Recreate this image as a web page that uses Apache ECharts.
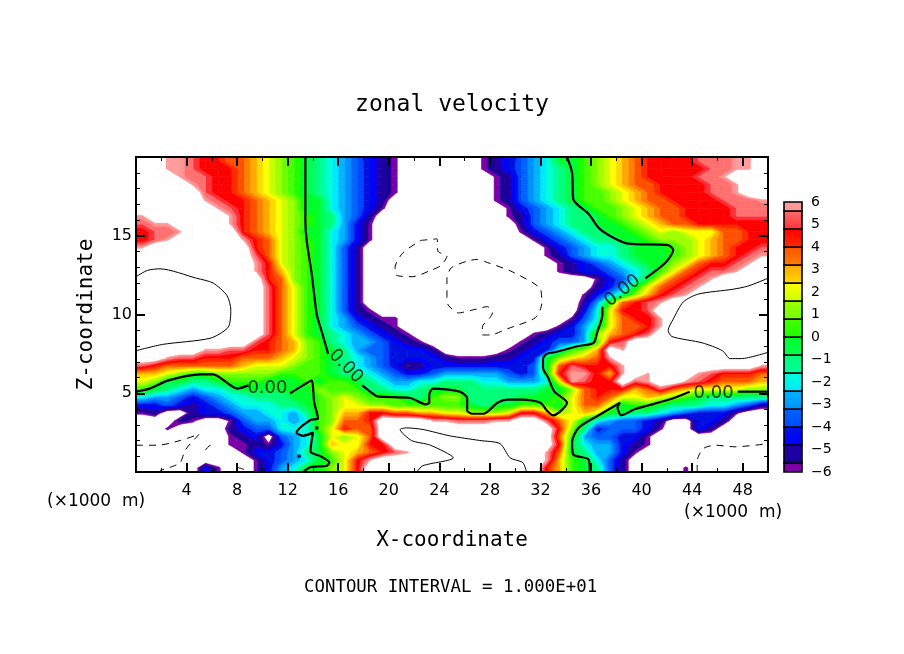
<!DOCTYPE html>
<html lang="en">
<head>
    <meta charset="UTF-8">
    <title>zonal velocity</title>
    <script src="https://cdn.jsdelivr.net/npm/echarts@6/dist/echarts.min.js"></script>
    <style>
        html, body { margin: 0; padding: 0; background: #fff; }
    </style>
</head>
<body>
    <div id="myChart" style="width: 904px; height: 654px;"></div>

    <script>
        // band edges of the colour bar (m/s)
        const bandEdges = [-6, -5.6, -4.8, -4, -3.2, -2.4, -1.6, -0.8, 0, 0.8, 1.6, 2.4, 3.2, 4, 4.8, 5.6, 6];
        const bandLow = ['#7a00a8', '#1a0098', '#0000ff', '#0048ff', '#0090ff', '#00e8ff', '#00ff9c', '#00ff50',
                         '#1cff00', '#70ff00', '#c8ff00', '#ffd800', '#ff8000', '#ff2c00', '#ff3038', '#ff9494'];
        const bandHigh = ['#7a00a8', '#2000a8', '#0010e0', '#0064ff', '#00b4ff', '#00ffd8', '#00ff78', '#00ff28',
                          '#48ff00', '#a0ff00', '#ffff00', '#ffa800', '#ff5000', '#ff0000', '#ff7070', '#ff9c9c'];

        // one letter per km in x, one row per 0.5 km in z, top row first; a = lowest band, p = highest, . = off scale
        const bandLetters = 'abcdefghijklmnop';
        const velocityRows = [
            '..pponnmml kjihgfedcb a......abc defhhijklm nnnnooopp.',
            '..pponnnml kjihgfedcb a......abc defghijklm nnnnnoopp.',
            '...poonnml kjihgfedcb a.......ab defghijklm nnnnoop...',
            '....ponnml kjihgfedcb a.......ab defghijklm mnnnnoop..',
            '.....onnml kjihgfedcb a.......ab defghiijkl mnnnnoop..',
            '.....ponnm lkjhhfedcb ........ab defghiijkl mmnnnnooop',
            '......ponm lkjhhfedca .........a cdefghiijk lmmnnnnooo',
            'p......pnm lkjihgedb. .........a bdefgghijk lmmnnnnooo',
            'opp....pnm lkjihgeca. .......... bdefgghhij klmmnnnnnn',
            'noop....nm lkjhhfeca. .......... acdefgghhi jkjkkkmmnn',
            'nop.....pn mkjihfeca. .......... .acdefgghh ijjjklmmnn',
            'p........n mkjihfdb.. .......... ..acdeffgh hhijklmnno',
            '.........o mkjihfdb.. .......... ..abdeffgh hhijklmnop',
            '.........p nkjihfdb.. .......... ...abcdefg hhjkmnnop.',
            '.........p nljihfdb.. .......... ...abccdef gikmnoop..',
            '.......... nmjihfdb.. .......... ......acdf hkmnop....',
            '.......... omkihfdb.. .......... ......bceh kmnop.....',
            '.......... omkihfdb.. .......... .....acegj lnop......',
            '.......... omkihfdb.. .......... .....beimn op........',
            '.......... omkihfdba. .......... .....cfknn o.........',
            '.......... omkihfecba a......... ....adfkmn np........',
            '.......... omkihfedcb a......... ...acegkmm np........',
            '.......... omkihgfedc ba........ .abccejlmn o.........',
            '.........o nmljigfeed cba....... abcddeino. ..........',
            '.....ppoon nmljihgedd cccb.....a bccfijl.p. ..........',
            '..poonnnmm mlkjihgfed ccccbaaabb cchjklmp.. ..........',
            'onmmmmmmlk kkjiihgfed cabccccccc cdhmonnnp. .........p',
            'llkjiijjjj jiiiihggfe dccdeeeeed cdhnppnlp. p...ponnnm',
            'kjhhgghiii hhhihiihgf eeffgggffe eefkponn.o p..ponmmml',
            'ihgfeffghh hhhhjiiigg ffghhhgggg gghhjmnnnl momlkkkkjj',
            'feedcdeffg gghhijkjii ihgijjgggg hhhikmnmkk lkjihggggg',
            'ccdcbcdeff fgghijkkjj iiiiiihghh iiihkmmkhi ihgggffedb',
            'ab..bccdee ffegijllnn mmllkkjjjk nnljklkhhg gfedccca..',
            '...ba..ade efefijmmn. ...ppooopp ..omkhfedd cb..ccb...',
            '..a....bcd dfffiknmm. .......... ...njgcddd ca..cb....',
            '.......abc .defhkjkm. .......... ...mieddcc a.........',
            '.......aab acefhlkknn .......... ...nhfeecb a.........',
            '........ac cdeghjklmn op........ ..pmhgeeca ..........',
            '.........a cdefhiknp. .......... ..plihfdb. ..........',
            '.....ca..a cefhhjkn.. .......... ..nlihgdb. ...a......'
        ];

        // contour lines, [x in km, z in km]
        const zeroUpper = [[13.4,20],[13.4,16],[13.5,14.7],[13.9,12.6],[14.3,10],[14.7,8.9],[15.2,7.5]];
        const zeroMiddle = [[17.9,5.5],[18.7,5],[19.1,4.8],[21.7,4.7],[22.9,4.3],[23.2,4.4],[23.2,4.9],[23.5,5.3],[25.6,5.1],[26.2,4.7],[26.2,3.9],[26.6,3.7],[27.5,3.7],[28.6,4.4],[29.4,4.6],[30.6,4.6],[32,4.4],[32.5,3.9],[33,3.6],[33.5,3.8],[34.1,4.4],[33.1,5.1],[32.6,6],[32.2,6.6],[32.2,7.2],[32.5,7.5],[33.1,7.6],[35,8],[36.2,8.2],[36.5,8.9],[36.9,10],[36.9,10.5]];
        const zeroRightUp = [[40.3,12.3],[41.9,13.3],[42.5,14.1],[42.1,14.4],[38.9,14.5],[37.7,14.9],[36.6,15.5],[35.8,16.4],[34.6,17.3],[34.5,19],[34.1,20]];
        const zeroLeft = [[0,5.1],[1.1,5.3],[2.5,5.8],[5.1,6.2],[6.1,6.2],[8,5.3],[8.9,5.5]];
        const zeroLeftLow = [[12.2,5],[13.2,5.5],[13.9,5.8],[14,5.4],[14.1,4.4],[14.4,3.4],[13.8,3.3],[12.7,2.5],[13.2,2.3],[14,2.5],[13.8,1.3],[14.6,1],[15.3,0.6],[15.1,0.4],[13.8,0.3],[13.2,0]];
        const zeroRight = [[35.9,0],[35.8,0.8],[34.6,1.1],[34.5,1.9],[35,2.8],[36.6,3.6],[38.3,4.4],[38.1,4.1],[38.4,3.6],[39.5,4],[42.2,4.6],[43.8,5.1]];
        const zeroEdge = [[47.6,5.1],[50,5.1]];
        const zeroDots = [[14.3,2.8],[12.9,1]];
        const zeroLines = [zeroUpper, zeroMiddle, zeroRightUp, zeroLeft, zeroLeftLow, zeroRight, zeroEdge];

        const posLeft = [[0,12.4],[0.9,12.8],[1.9,12.9],[4.8,12.3],[6.1,12],[7.2,11.2],[7.5,10.3],[7.3,9.2],[5.9,8.5],[2.1,8.1],[0,7.7]];
        const posRight = [[50,12.3],[48.4,11.8],[47.2,11.6],[44.5,11.3],[43.3,10.8],[42.5,9.7],[42.1,9],[42.4,8.6],[44.8,8.2],[46.4,7.7],[47,7.2],[47.9,7.2],[50,7.6]];
        const posLow = [[30.9,0],[30.6,0.6],[29.6,0.9],[28.8,1.8],[27.2,2],[24.8,2.3],[22.7,2.7],[21.4,2.8],[20.9,2.7],[21.8,2],[23.3,1.7],[25.1,0.9],[22.7,0.4],[22.2,0]];
        const posLines = [posLeft, posRight, posLow];

        const negLoopA = [[22.5,14.7],[23.8,14.8],[23.9,14],[24.6,13.7],[24.1,13.1],[23.3,12.8],[21.9,12.4],[20.6,12.5],[20.5,13],[21.1,13.9],[22.5,14.7]];
        const negLoopB = [[24.6,11.1],[24.6,12.3],[25,13],[27,13.5],[27.8,13.3],[29.8,12.7],[32,11.6],[32.1,10.7],[31.6,9.8],[29.4,9.1],[28,8.7],[27.4,8.7],[27.4,9.2],[28,9.8],[28.2,10.1],[27.8,10.5],[26.7,10.3],[25.5,10.1],[24.7,10.6],[24.6,11.1]];
        const negLowLeft = [[0,1.7],[1.7,1.7],[3.5,2],[5,2.4],[3.9,1.4],[3.5,0.6],[2.7,0.3],[1.9,0.1]];
        const negSmall = [[5.5,1.4],[5.9,1.7],[6.2,1.7]];
        const negBottom = [[8,0.3],[8.8,0.1]];
        const negLowRight = [[44.4,0],[44.4,0.6],[44.5,1],[44.9,1.5],[45.8,1.7],[47.4,1.6],[50,1.8]];
        const negLines = [negLoopA, negLoopB, negLowLeft, negSmall, negBottom, negLowRight];

        // where the 0.00 labels sit, [x, z, rotation]
        const zeroLabels = [[10.4,5.3,0],[16.6,6.7,-45],[38.5,11.5,38],[45.7,5,0]];

        // text
        const titleText = 'zonal velocity';
        const xName = 'X-coordinate';
        const zName = 'Z-coordinate';
        const unitText = '(\u00d71000  m)';
        const intervalText = 'CONTOUR INTERVAL = 1.000E+01';

        const plotRect = { left: 136, top: 157, width: 632, height: 315 };
        const sansFont = '"DejaVu Sans", sans-serif';
        const monoFont = '"DejaVu Sans Mono", monospace';
        const offScale = 7;

        // read the rows into a bottom-up table, a band letter stands for the middle of its band
        const field = velocityRows.slice().reverse().map(function (row) {
            return row.replace(/ /g, '').split('').map(function (ch) {
                const b = bandLetters.indexOf(ch);
                return b < 0 ? null : (bandEdges[b] + bandEdges[b + 1]) / 2;
            });
        });
        // off-scale (white) areas are over +6 or under -6, whichever their colored neighbours lead to
        for (let changed = true; changed;) {
            changed = false;
            field.forEach(function (row, r) {
                row.forEach(function (v, c) {
                    if (v !== null) return;
                    const near = [(field[r - 1] || [])[c], (field[r + 1] || [])[c], row[c - 1], row[c + 1]]
                        .filter(function (n) { return n !== null && n !== undefined; });
                    if (near.length) {
                        row[c] = near[0] > 0 ? offScale : -offScale;
                        changed = true;
                    }
                });
            });
        }

        // node positions in km: cell centres plus the plot edges
        const nodeX = [0].concat(field[0].map(function (_, c) { return c + 0.5; }), [50]);
        const nodeZ = [0].concat(field.map(function (_, r) { return (r + 0.5) / 2; }), [20]);
        function nodeValue(i, j) {
            const r = Math.min(Math.max(j - 1, 0), field.length - 1);
            const c = Math.min(Math.max(i - 1, 0), field[0].length - 1);
            return field[r][c];
        }

        // filled contour levels, each band has two shades, white again above the top
        const levels = [];
        bandLow.forEach(function (c, i) {
            levels.push({ from: bandEdges[i], color: c });
            levels.push({ from: (bandEdges[i] + bandEdges[i + 1]) / 2, color: bandHigh[i] });
        });
        levels.push({ from: 6, color: '#fff' });

        // the part of every grid square that is at or above one level, in km
        function levelPolygons(t, nextT) {
            const polys = [];
            for (let j = 0; j < nodeZ.length - 1; j++) {
                for (let i = 0; i < nodeX.length - 1; i++) {
                    const corners = [
                        [nodeX[i], nodeZ[j], nodeValue(i, j)],
                        [nodeX[i + 1], nodeZ[j], nodeValue(i + 1, j)],
                        [nodeX[i + 1], nodeZ[j + 1], nodeValue(i + 1, j + 1)],
                        [nodeX[i], nodeZ[j + 1], nodeValue(i, j + 1)]
                    ];
                    const low = Math.min(corners[0][2], corners[1][2], corners[2][2], corners[3][2]);
                    if (nextT !== undefined && low >= nextT) continue;
                    const pts = [];
                    corners.forEach(function (a, k) {
                        const b = corners[(k + 1) % 4];
                        if (a[2] >= t) pts.push([a[0], a[1]]);
                        if ((a[2] >= t) !== (b[2] >= t)) {
                            const f = (t - a[2]) / (b[2] - a[2]);
                            pts.push([a[0] + f * (b[0] - a[0]), a[1] + f * (b[1] - a[1])]);
                        }
                    });
                    if (pts.length > 2) polys.push(pts);
                }
            }
            return polys;
        }
        levels.forEach(function (l, i) {
            l.polys = levelPolygons(l.from, i + 1 < levels.length ? levels[i + 1].from : undefined);
        });

        function lineSeries(points, width, type) {
            return {
                type: 'line', xAxisIndex: 0, yAxisIndex: 0, data: points, smooth: 0.25,
                showSymbol: false, silent: true, animation: false, z: 5,
                lineStyle: { color: '#000', width: width, type: type }
            };
        }

        const barBoxes = bandLow.map(function (c, i) { return [0, bandEdges[i], 1, bandEdges[i + 1], i]; });

        const series = [
            {
                // filled contours
                type: 'custom', xAxisIndex: 0, yAxisIndex: 0, silent: true, animation: false, z: 1,
                data: levels.map(function (l, i) { return [0, 0, i]; }),
                renderItem: function (params, api) {
                    const l = levels[api.value(2)];
                    return {
                        type: 'group',
                        children: l.polys.map(function (pts) {
                            return {
                                type: 'polygon',
                                shape: { points: pts.map(function (p) { return api.coord(p); }) },
                                style: { fill: l.color, stroke: l.color, lineWidth: 0.6 }
                            };
                        })
                    };
                }
            }
        ];
        zeroLines.forEach(function (l) { series.push(lineSeries(l, 2.2, 'solid')); });
        posLines.forEach(function (l) { series.push(lineSeries(l, 1, 'solid')); });
        negLines.forEach(function (l) { series.push(lineSeries(l, 1, [7, 6])); });
        series.push({
            type: 'scatter', xAxisIndex: 0, yAxisIndex: 0, data: zeroDots, symbolSize: 4,
            silent: true, animation: false, z: 5, itemStyle: { color: '#000' }
        });
        series.push({
            type: 'scatter', xAxisIndex: 0, yAxisIndex: 0, symbolSize: 0, silent: true, animation: false, z: 6,
            data: zeroLabels.map(function (l) {
                return {
                    value: [l[0], l[1]],
                    label: { show: true, position: 'inside', rotate: l[2], formatter: '0.00',
                             color: '#000', fontFamily: sansFont, fontSize: 18 }
                };
            })
        });
        // colour bar
        series.push({
            type: 'custom', xAxisIndex: 2, yAxisIndex: 2, data: barBoxes, silent: true, animation: false,
            renderItem: function (params, api) {
                const a = api.coord([api.value(0), api.value(1)]);
                const b = api.coord([api.value(2), api.value(3)]);
                const i = api.value(4);
                return {
                    type: 'rect',
                    shape: { x: a[0], y: b[1], width: b[0] - a[0], height: a[1] - b[1] },
                    style: {
                        fill: new echarts.graphic.LinearGradient(0, 1, 0, 0, [
                            { offset: 0, color: bandLow[i] }, { offset: 1, color: bandHigh[i] }
                        ]),
                        stroke: '#000', lineWidth: 1.6
                    }
                };
            }
        });

        const hidden = { show: false };
        const majorTick = { show: true, inside: true, length: 9, lineStyle: { color: '#000', width: 2 } };
        const shortTick = { show: true, inside: true, length: 4, lineStyle: { color: '#000', width: 1 } };
        const blackLine = { show: true, onZero: false, lineStyle: { color: '#000', width: 2 } };

        const option = {
            backgroundColor: '#fff',
            animation: false,
            title: {
                text: titleText, left: 'center', top: 89,
                textStyle: { color: '#000', fontFamily: monoFont, fontSize: 23, fontWeight: 'normal' }
            },
            grid: [
                plotRect,
                plotRect,
                { left: 784, top: 202, width: 18, height: 270 }
            ],
            xAxis: [
                // main axes, long ticks every 4 km
                {
                    gridIndex: 0, type: 'value', min: 0, max: 50, interval: 4, position: 'bottom', z: 10,
                    name: xName, nameLocation: 'middle', nameGap: 58,
                    nameTextStyle: { color: '#000', fontFamily: monoFont, fontSize: 21 },
                    axisLine: blackLine, axisTick: majorTick, splitLine: hidden,
                    axisLabel: {
                        color: '#000', fontFamily: sansFont, fontSize: 16, margin: 11, showMaxLabel: false,
                        formatter: function (v) { return v === 0 || v === 50 ? '' : String(v); }
                    }
                },
                {
                    gridIndex: 0, type: 'value', min: 0, max: 50, interval: 4, position: 'top', z: 10,
                    axisLine: blackLine, axisTick: majorTick, splitLine: hidden, axisLabel: hidden
                },
                // colour bar
                { gridIndex: 2, type: 'value', min: 0, max: 1, show: false },
                // short ticks every 2 km
                {
                    gridIndex: 1, type: 'value', min: 0, max: 50, interval: 2, position: 'bottom', z: 10,
                    axisLine: hidden, axisLabel: hidden, splitLine: hidden, axisTick: shortTick
                },
                {
                    gridIndex: 1, type: 'value', min: 0, max: 50, interval: 2, position: 'top', z: 10,
                    axisLine: hidden, axisLabel: hidden, splitLine: hidden, axisTick: shortTick
                }
            ],
            yAxis: [
                {
                    gridIndex: 0, type: 'value', min: 0, max: 20, interval: 5, position: 'left', z: 10,
                    name: zName, nameLocation: 'middle', nameGap: 39,
                    nameTextStyle: { color: '#000', fontFamily: monoFont, fontSize: 21 },
                    axisLine: blackLine, axisTick: majorTick, splitLine: hidden,
                    minorTick: { show: true, splitNumber: 5, length: 4, lineStyle: { color: '#000', width: 1 } },
                    axisLabel: {
                        color: '#000', fontFamily: sansFont, fontSize: 16, margin: 4,
                        formatter: function (v) { return v === 0 || v === 20 ? '' : String(v); }
                    }
                },
                {
                    gridIndex: 0, type: 'value', min: 0, max: 20, interval: 5, position: 'right', z: 10,
                    axisLine: blackLine, axisTick: majorTick, splitLine: hidden, axisLabel: hidden,
                    minorTick: { show: true, splitNumber: 5, length: 4, lineStyle: { color: '#000', width: 1 } }
                },
                // colour bar scale
                {
                    gridIndex: 2, type: 'value', min: -6, max: 6, interval: 1, position: 'right',
                    axisLine: hidden, axisTick: hidden, splitLine: hidden,
                    axisLabel: {
                        color: '#000', fontFamily: sansFont, fontSize: 14, margin: 9,
                        formatter: function (v) { return String(v).replace('-', '\u2212'); }
                    }
                },
                { gridIndex: 1, type: 'value', min: 0, max: 20, show: false }
            ],
            graphic: [
                { type: 'text', left: 47, top: 493, style: { text: unitText, fill: '#000', font: '17px ' + sansFont } },
                { type: 'text', left: 684, top: 504, style: { text: unitText, fill: '#000', font: '17px ' + sansFont } },
                { type: 'text', left: 304, top: 579, style: { text: intervalText, fill: '#000', font: '17.4px ' + monoFont } }
            ],
            series: series
        };

        const myChart = echarts.init(document.getElementById('myChart'));
        myChart.setOption(option);
    </script>
</body>
</html>
